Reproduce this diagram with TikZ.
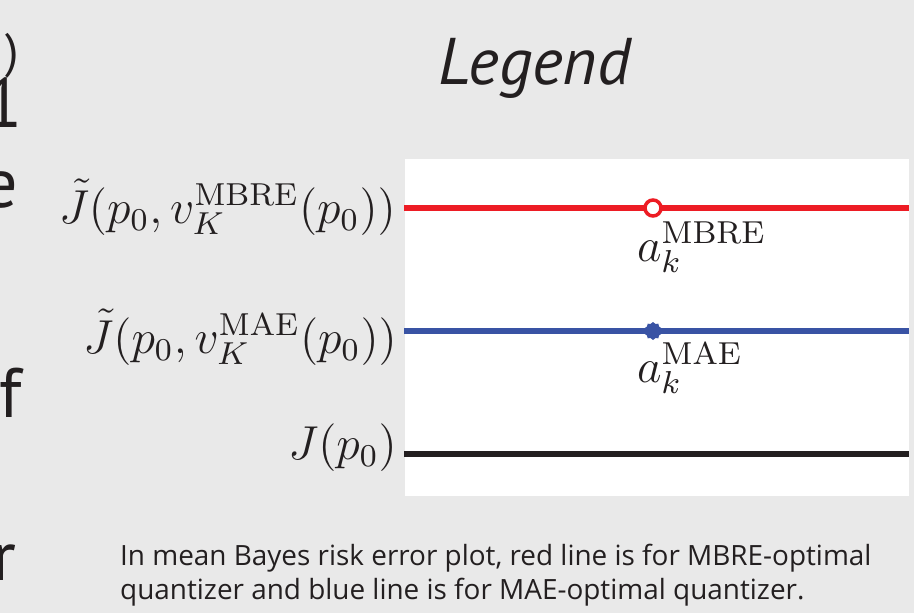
\documentclass[tikz,border=0pt]{standalone}
\usepackage{graphicx}
\usepackage[no-math]{fontspec}
\newfontfamily\slidefont{PT Sans}
\newfontfamily\capfont{Open Sans}
\usetikzlibrary{shapes.geometric}
\definecolor{slidebg}{HTML}{E9E9E9}
\definecolor{mbrered}{HTML}{ED1C24}
\definecolor{maeblue}{HTML}{3953A4}
\definecolor{ink}{HTML}{231F20}
% math labels are set at 12pt and enlarged as a whole
\newcommand{\bigmath}[1]{\scalebox{3.97}{$#1$}}
\begin{document}
\begin{tikzpicture}[x=1pt,y=-1pt,
  mathlbl/.style={inner sep=0pt, font=\fontsize{12}{14}\selectfont, text=ink},
  legline/.style={line width=5.5pt},
  sidetxt/.style={inner sep=0pt, anchor=base east, font=\slidefont\fontsize{70}{84}\selectfont, text=ink},
  captxt/.style={inner sep=0pt, anchor=base west, font=\capfont\fontsize{27.9}{33}\selectfont, text=ink}]
% slide background and page frame
\fill[slidebg] (0,0) rectangle (914,613);
\useasboundingbox (0,0) rectangle (914,613);
\clip (0,0) rectangle (914,613);

% ends of the text lines running in from the left of the slide
\node[sidetxt, font=\slidefont\fontsize{48}{58}\selectfont] (s1) at (19,67) {)};
\node[sidetxt] (s2) at (23,127) {1};
\node[sidetxt] (s3) at (18,207) {e};
\node[sidetxt] (s4) at (22,417) {f};
\node[sidetxt] (s5) at (17,580) {r};

% title
\node[inner sep=0pt, anchor=base west, text=ink,
      font=\slidefont\itshape\fontsize{66}{80}\selectfont] (title) at (438,84) {Legend};

% white plotting panel
\fill[white] (405,159) rectangle (909,496);

% line end points
\coordinate (r0) at (404,208);  \coordinate (r1) at (909,208);
\coordinate (b0) at (404,331);  \coordinate (b1) at (909,331);
\coordinate (k0) at (404,454);  \coordinate (k1) at (909,454);

\draw[legline, mbrered] (r0) -- (r1);
\draw[legline, maeblue] (b0) -- (b1);
\draw[legline, ink] (k0) -- (k1);

% curve labels
\node[mathlbl, anchor=base east] (lr) at (396,223) {\bigmath{\tilde J(p_0, v_K^{\mathrm{MBRE}}(p_0))}};
\node[mathlbl, anchor=base east] (lb) at (397,353) {\bigmath{\tilde J(p_0, v_K^{\mathrm{MAE}}(p_0))}};
\node[mathlbl, anchor=base east] (lk) at (397,459) {\bigmath{J(p_0)}};

% optimal points
\node[circle, draw=mbrered, fill=white, line width=3.5pt, minimum size=16pt, inner sep=0pt] (ambre) at (653,208) {};
\node[star, star points=10, star point ratio=1.2, fill=maeblue, minimum size=18pt, inner sep=0pt] (amae) at (653,331) {};
\node[mathlbl, anchor=base west] (tmbre) at (637,261) {\bigmath{a_k^{\mathrm{MBRE}}}};
\node[mathlbl, anchor=base west] (tmae) at (637,382) {\bigmath{a_k^{\mathrm{MAE}}}};

% caption
\node[captxt] (cap1) at (120,565) {In mean Bayes risk error plot, red line is for MBRE-optimal};
\node[captxt] (cap2) at (120,599) {quantizer and blue line is for MAE-optimal quantizer.};
\end{tikzpicture}
\end{document}
